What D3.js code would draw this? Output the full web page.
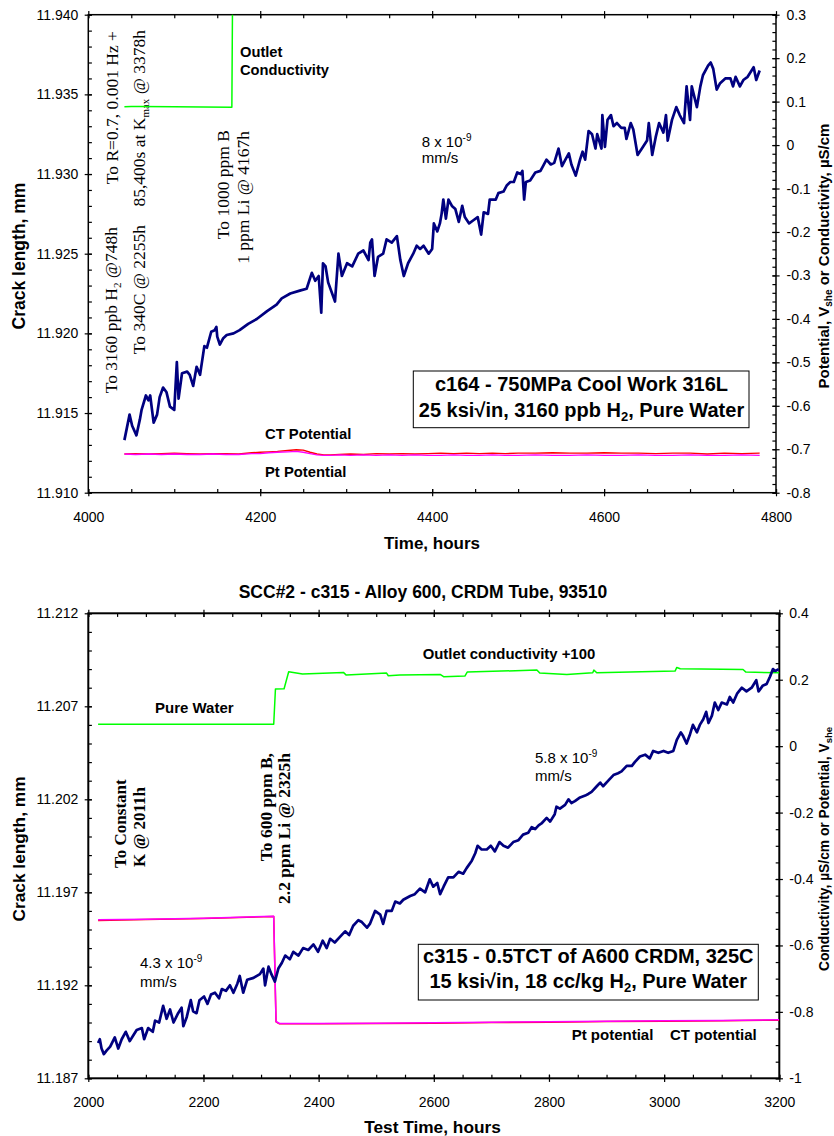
<!DOCTYPE html>
<html>
<head>
<meta charset="utf-8">
<script src="https://cdn.jsdelivr.net/npm/d3@7"></script>
<style>
  body { margin: 0; background: #fff; }
  svg { display: block; }
  text { font-family: "Liberation Sans", Arial, Helvetica, sans-serif; fill: #000; }
  .serif { font-family: "Liberation Serif", "Times New Roman", serif; }
</style>
</head>
<body>
<svg id="fig" width="834" height="1136"></svg>
<script>
// ---------- c164 (upper panel) ----------
const c164Hours = [4042,4048,4051,4056,4060,4062,4067,4070,4072,4076,4080,4083,4087,4091,4095,4100,4103,4105,4109,4115,4118,4122,4126,4130,4135,4138,4143,4147,4149,4150,4153,4157,4161,4169,4176,4186,4196,4208,4219,4225,4235,4247,4254,4260,4264,4268,4271,4273,4276,4279,4287,4291,4295,4301,4307,4314,4320,4326,4328,4330,4333,4337,4343,4347,4353,4359,4363,4367,4372,4378,4382,4386,4390,4396,4400,4402,4406,4409,4411,4413,4416,4419,4423,4427,4431,4435,4438,4443,4448,4453,4457,4460,4465,4467,4474,4477,4483,4487,4491,4495,4499,4503,4505,4507,4509,4514,4520,4526,4529,4533,4538,4542,4547,4551,4555,4559,4562,4567,4572,4575,4578,4582,4586,4590,4592,4597,4598,4601,4604,4608,4611,4615,4620,4624,4626,4631,4634,4639,4644,4650,4652,4656,4660,4664,4669,4672,4674,4679,4684,4688,4693,4696,4700,4702,4708,4712,4715,4721,4724,4727,4731,4735,4741,4747,4750,4753,4758,4762,4767,4774,4777,4781];
const c164Crack = [11.9133,11.9149,11.9142,11.9136,11.9146,11.9152,11.9161,11.9158,11.9161,11.9144,11.9149,11.9160,11.9166,11.9163,11.9154,11.9152,11.9182,11.9159,11.9175,11.9176,11.9174,11.9167,11.9179,11.9174,11.9192,11.9191,11.9201,11.9202,11.9204,11.9198,11.9193,11.9197,11.9199,11.9200,11.9202,11.9206,11.9209,11.9214,11.9218,11.9222,11.9225,11.9227,11.9228,11.9238,11.9233,11.9236,11.9213,11.9244,11.9242,11.9232,11.9220,11.9250,11.9236,11.9244,11.9242,11.9250,11.9252,11.9246,11.9257,11.9259,11.9236,11.9248,11.9250,11.9259,11.9257,11.9261,11.9246,11.9236,11.9244,11.9250,11.9255,11.9253,11.9255,11.9250,11.9253,11.9269,11.9264,11.9269,11.9275,11.9284,11.9272,11.9284,11.9280,11.9278,11.9270,11.9280,11.9273,11.9269,11.9271,11.9273,11.9262,11.9276,11.9275,11.9284,11.9284,11.9288,11.9289,11.9293,11.9295,11.9295,11.9301,11.9300,11.9302,11.9284,11.9295,11.9296,11.9301,11.9302,11.9305,11.9309,11.9306,11.9307,11.9316,11.9305,11.9309,11.9313,11.9306,11.9299,11.9309,11.9314,11.9309,11.9327,11.9325,11.9316,11.9325,11.9316,11.9337,11.9317,11.9334,11.9337,11.9330,11.9332,11.9329,11.9329,11.9322,11.9332,11.9328,11.9312,11.9316,11.9321,11.9332,11.9312,11.9323,11.9332,11.9326,11.9337,11.9321,11.9334,11.9342,11.9337,11.9332,11.9355,11.9334,11.9355,11.9342,11.9355,11.9362,11.9368,11.9370,11.9366,11.9353,11.9357,11.9360,11.9360,11.9355,11.9361,11.9355,11.9359,11.9361,11.9367,11.9359,11.9365];

const c164CondHours = [4042, 4050, 4060, 4100, 4167, 4168];
const c164Cond      = [0.088, 0.089, 0.089, 0.088, 0.087, 0.40];

const c164PotHours = [4042,4055,4070,4085,4100,4115,4130,4145,4160,4175,4190,4200,4210,4220,4232,4242,4250,4258,4266,4274,4282,4292,4305,4320,4335,4350,4365,4380,4395,4410,4425,4440,4455,4470,4485,4500,4520,4540,4560,4580,4600,4620,4640,4660,4680,4700,4720,4740,4760,4781];
const c164CtPot = [-0.711,-0.710,-0.711,-0.710,-0.709,-0.710,-0.711,-0.710,-0.710,-0.711,-0.708,-0.707,-0.706,-0.705,-0.703,-0.701,-0.702,-0.707,-0.711,-0.713,-0.713,-0.712,-0.711,-0.712,-0.710,-0.711,-0.710,-0.711,-0.710,-0.709,-0.710,-0.709,-0.710,-0.709,-0.710,-0.709,-0.709,-0.708,-0.709,-0.709,-0.708,-0.709,-0.709,-0.710,-0.709,-0.709,-0.711,-0.709,-0.710,-0.709];
const c164PtPot = [-0.711,-0.712,-0.711,-0.712,-0.711,-0.712,-0.712,-0.711,-0.712,-0.712,-0.710,-0.710,-0.708,-0.707,-0.706,-0.705,-0.707,-0.710,-0.713,-0.714,-0.714,-0.713,-0.714,-0.713,-0.714,-0.713,-0.714,-0.713,-0.714,-0.714,-0.713,-0.714,-0.714,-0.713,-0.714,-0.714,-0.713,-0.714,-0.714,-0.713,-0.714,-0.714,-0.713,-0.714,-0.714,-0.713,-0.714,-0.714,-0.713,-0.714];

const c164TimeTicks  = [4000, 4200, 4400, 4600, 4800];
const c164CrackTicks = [11.910, 11.915, 11.920, 11.925, 11.930, 11.935, 11.940];
const c164RightTicks = [-0.8,-0.7,-0.6,-0.5,-0.4,-0.3,-0.2,-0.1,0,0.1,0.2,0.3];

// ---------- c315 (lower panel) ----------
const c315Hours = [2017,2020,2023,2027,2032,2038,2046,2052,2058,2065,2072,2078,2084,2093,2097,2104,2112,2116,2123,2130,2136,2142,2148,2156,2162,2165,2171,2178,2182,2188,2193,2201,2207,2213,2220,2227,2232,2239,2246,2252,2259,2263,2269,2276,2287,2298,2304,2307,2313,2318,2324,2330,2336,2342,2350,2356,2365,2373,2382,2391,2399,2407,2414,2420,2428,2437,2446,2453,2460,2469,2475,2484,2489,2498,2507,2512,2518,2527,2533,2541,2547,2559,2567,2576,2585,2593,2599,2606,2611,2617,2625,2634,2643,2651,2657,2666,2672,2676,2683,2692,2699,2706,2714,2721,2729,2738,2747,2755,2764,2770,2776,2782,2787,2796,2802,2810,2813,2819,2828,2834,2839,2845,2854,2863,2869,2874,2883,2889,2894,2903,2912,2920,2926,2935,2944,2949,2958,2967,2975,2981,2990,2999,3007,3016,3022,3029,3033,3039,3045,3050,3057,3062,3068,3073,3077,3083,3088,3094,3100,3109,3114,3120,3127,3135,3143,3152,3160,3164,3171,3178,3184,3189,3193,3199];
const c315Crack = [11.1889,11.1891,11.1886,11.1883,11.1885,11.1887,11.1892,11.1886,11.1891,11.1895,11.1890,11.1893,11.1896,11.1897,11.1891,11.1897,11.1895,11.1901,11.1900,11.1909,11.1902,11.1907,11.1900,11.1905,11.1908,11.1898,11.1903,11.1912,11.1906,11.1905,11.1912,11.1914,11.1910,11.1915,11.1916,11.1913,11.1918,11.1917,11.1920,11.1916,11.1921,11.1925,11.1916,11.1923,11.1924,11.1926,11.1929,11.1920,11.1930,11.1926,11.1922,11.1929,11.1932,11.1936,11.1934,11.1938,11.1936,11.1940,11.1939,11.1942,11.1938,11.1944,11.1940,11.1945,11.1943,11.1946,11.1949,11.1947,11.1952,11.1955,11.1954,11.1951,11.1953,11.1960,11.1958,11.1953,11.1960,11.1960,11.1965,11.1964,11.1966,11.1968,11.1969,11.1972,11.1970,11.1977,11.1973,11.1975,11.1969,11.1973,11.1978,11.1978,11.1981,11.1980,11.1983,11.1987,11.1991,11.1995,11.1993,11.1993,11.1995,11.1992,11.1997,11.1995,11.1994,11.1997,11.1998,11.2001,11.2002,11.2005,11.2004,11.2006,11.2007,11.2010,11.2008,11.2012,11.2016,11.2015,11.2017,11.2020,11.2018,11.2019,11.2021,11.2022,11.2023,11.2024,11.2027,11.2029,11.2027,11.2030,11.2033,11.2034,11.2035,11.2038,11.2038,11.2040,11.2043,11.2044,11.2042,11.2046,11.2045,11.2046,11.2045,11.2046,11.2052,11.2056,11.2054,11.2050,11.2055,11.2060,11.2056,11.2060,11.2063,11.2067,11.2061,11.2065,11.2072,11.2068,11.2072,11.2071,11.2075,11.2072,11.2077,11.2080,11.2078,11.2080,11.2084,11.2078,11.2081,11.2082,11.2086,11.2090,11.2089,11.2090];

const c315CondHours = [2017,2322,2325,2340,2348,2372,2443,2448,2518,2521,2541,2611,2617,2654,2658,2779,2784,2831,2876,2878,2883,3019,3022,3028,3137,3142,3200];
const c315Cond      = [0.066,0.066,0.172,0.173,0.224,0.217,0.222,0.214,0.220,0.212,0.214,0.216,0.209,0.211,0.223,0.229,0.220,0.216,0.221,0.229,0.221,0.226,0.237,0.233,0.231,0.223,0.221];

const c315PotHours = [2017,2100,2200,2322,2326,2332,2400,2500,2600,2700,2800,2900,3000,3100,3200];
const c315CtPot    = [-0.525,-0.522,-0.519,-0.513,-0.830,-0.836,-0.836,-0.835,-0.834,-0.832,-0.831,-0.829,-0.828,-0.827,-0.825];
const c315PtPot    = [-0.523,-0.521,-0.518,-0.512,-0.829,-0.835,-0.835,-0.834,-0.833,-0.831,-0.830,-0.828,-0.827,-0.826,-0.824];

const c315TimeTicks  = [2000, 2200, 2400, 2600, 2800, 3000, 3200];
const c315CrackTicks = [11.187, 11.192, 11.197, 11.202, 11.207, 11.212];
const c315RightTicks = [-1,-0.8,-0.6,-0.4,-0.2,0,0.2,0.4];

// ---------- drawing ----------
const svg = d3.select("#fig");
const NAVY = "#000080", GREEN = "#00ff00", RED = "#ff0000", MAGENTA = "#ff00ff";

function minorValues(lo, hi, step) {
  const n = Math.round((hi - lo) / step);
  return d3.range(n + 1).map(i => +(lo + i * step).toFixed(6));
}

function drawFrame(g, p) {
  const { x, yL, yR, left, right, top, bottom, lw } = p;

  // minor ticks point inward, major ticks cross the axis line
  const tick = (axisFn, scale, values, size, tr) => {
    g.append("g").attr("transform", tr)
      .call(axisFn(scale).tickValues(values).tickSize(size).tickFormat(""))
      .call(a => a.select(".domain").remove())
      .call(a => a.selectAll("line").attr("stroke-width", 1.2));
  };
  tick(d3.axisLeft, yL, p.yMinor, -3.6, `translate(${left},0)`);
  tick(d3.axisLeft, yL, p.yMajor, 3.6, `translate(${left},0)`);
  tick(d3.axisLeft, yL, p.yMajor, -3.6, `translate(${left},0)`);
  tick(d3.axisRight, yR, p.rMinor, -3.6, `translate(${right},0)`);
  tick(d3.axisRight, yR, p.rMajor, 3.6, `translate(${right},0)`);
  tick(d3.axisRight, yR, p.rMajor, -3.6, `translate(${right},0)`);
  tick(d3.axisBottom, x, p.xMinor, -3.6, `translate(0,${bottom})`);
  tick(d3.axisBottom, x, p.xMajor, 3.6, `translate(0,${bottom})`);
  tick(d3.axisBottom, x, p.xMajor, -3.6, `translate(0,${bottom})`);
  tick(d3.axisTop, x, p.xMinor, -3.6, `translate(0,${top})`);
  tick(d3.axisTop, x, p.xMajor, 3.6, `translate(0,${top})`);
  tick(d3.axisTop, x, p.xMajor, -3.6, `translate(0,${top})`);

  g.append("rect")
    .attr("x", left).attr("y", top)
    .attr("width", right - left).attr("height", bottom - top)
    .attr("fill", "none").attr("stroke", "#000").attr("stroke-width", lw);

  // tick labels
  const labels = (axis, tr) => {
    g.append("g").attr("transform", tr).call(axis)
      .attr("font-family", null).attr("font-size", null)
      .call(a => a.select(".domain").remove())
      .call(a => a.selectAll("line").remove())
      .call(a => a.selectAll("text").style("font-size", "14px"));
  };
  labels(d3.axisLeft(yL).tickValues(p.yMajor).tickSize(0).tickPadding(10).tickFormat(d3.format(".3f")),
         `translate(${left},0)`);
  labels(d3.axisRight(yR).tickValues(p.rMajor).tickSize(0).tickPadding(p.rPad).tickFormat(d => String(+d.toFixed(2))),
         `translate(${right},0)`);
  labels(d3.axisBottom(x).tickValues(p.xMajor).tickSize(0).tickPadding(p.xPad).tickFormat(d3.format("d")),
         `translate(0,${bottom})`);
}

function addLine(g, x, y, hours, values, color, width) {
  const line = d3.line().x(d => x(d[0])).y(d => y(d[1]));
  g.append("path").datum(d3.zip(hours, values))
    .attr("d", line).attr("fill", "none")
    .attr("stroke", color).attr("stroke-width", width)
    .attr("stroke-linejoin", "round");
}

function label(g, x, y, parts, opts = {}) {
  const t = g.append("text")
    .attr("x", x).attr("y", y)
    .attr("text-anchor", opts.anchor || "start")
    .style("font-size", (opts.size || 15) + "px")
    .style("font-weight", opts.bold ? "bold" : "normal");
  if (opts.serif) t.attr("class", "serif");
  if (opts.rotate) t.attr("x", null).attr("y", null)
    .attr("transform", `translate(${x},${y}) rotate(-90)`);
  (Array.isArray(parts) ? parts : [parts]).forEach(pt => {
    if (typeof pt === "string") t.append("tspan").text(pt);
    else t.append("tspan").text(pt.t)
      .style("font-size", pt.size + "px")
      .attr("baseline-shift", pt.shift);
  });
  return t;
}

function clipped(id, left, top, right, bottom) {
  svg.append("clipPath").attr("id", id).append("rect")
    .attr("x", left).attr("y", top).attr("width", right - left).attr("height", bottom - top);
  return svg.append("g").attr("clip-path", `url(#${id})`);
}

// ===== upper panel: c164 =====
{
  const left = 88.3, right = 776, top = 14.7, bottom = 492.7;
  const x = d3.scaleLinear([4000, 4800], [left, right]);
  const yL = d3.scaleLinear([11.910, 11.940], [bottom, top]);
  const yR = d3.scaleLinear([-0.8, 0.3], [bottom, top]);
  const g = svg.append("g");

  const plot = clipped("clipTop", left, top, right, bottom);
  addLine(plot, x, yR, c164CondHours, c164Cond, GREEN, 1.5);
  addLine(plot, x, yR, c164PotHours, c164CtPot, RED, 1.4);
  addLine(plot, x, yR, c164PotHours, c164PtPot, MAGENTA, 1.4);
  addLine(plot, x, yL, c164Hours, c164Crack, NAVY, 2.7);

  drawFrame(g, {
    x, yL, yR, left, right, top, bottom, lw: 1.5,
    xMajor: c164TimeTicks, xMinor: minorValues(4000, 4800, 50),
    yMajor: c164CrackTicks, yMinor: minorValues(11.910, 11.940, 0.001),
    rMajor: c164RightTicks, rMinor: minorValues(-0.8, 0.3, 0.02),
    xPad: 19, rPad: 10.5
  });

  label(g, 25, 256, "Crack length, mm", { bold: true, size: 17.5, rotate: true, anchor: "middle" });
  label(g, 432, 549, "Time, hours", { bold: true, size: 17, anchor: "middle" });
  label(g, 829, 256, ["Potential, V", { t: "she", size: 10, shift: -3 }, " or Conductivity, µS/cm"],
        { bold: true, size: 15, rotate: true, anchor: "middle" });

  label(g, 240, 57.3, "Outlet", { bold: true, size: 14.7 });
  label(g, 240, 75, "Conductivity", { bold: true, size: 14.7 });
  label(g, 421.7, 146.7, ["8 x 10", { t: "-9", size: 10, shift: 6 }], { size: 15 });
  label(g, 421.7, 163.3, "mm/s", { size: 15 });
  label(g, 265, 439.3, "CT Potential", { bold: true, size: 14.8 });
  label(g, 265, 476.7, "Pt Potential", { bold: true, size: 14.8 });

  // event annotations
  label(g, 117, 227, ["To 3160 ppb H", { t: "2", size: 11, shift: -4 }, " @748h"], { serif: true, size: 17.5, rotate: true, anchor: "end" });
  label(g, 145, 225, "To 340C @ 2255h", { serif: true, size: 17.5, rotate: true, anchor: "end" });
  label(g, 118, 31, "To R=0.7, 0.001 Hz +", { serif: true, size: 17.5, rotate: true, anchor: "end" });
  label(g, 145, 30, ["85,400s at K", { t: "max", size: 11, shift: -4 }, " @ 3378h"], { serif: true, size: 17.5, rotate: true, anchor: "end" });
  label(g, 228.5, 130, "To 1000 ppm B", { serif: true, size: 17.5, rotate: true, anchor: "end" });
  label(g, 248.5, 131, "1 ppm Li @ 4167h", { serif: true, size: 17.5, rotate: true, anchor: "end" });

  g.append("rect").attr("x", 413.3).attr("y", 371).attr("width", 335.7).attr("height", 56.7)
    .attr("fill", "#fff").attr("stroke", "#000").attr("stroke-width", 1);
  label(g, 581.5, 391, "c164 - 750MPa Cool Work 316L", { bold: true, size: 20, anchor: "middle" });
  label(g, 581.5, 416.7, ["25 ksi√in, 3160 ppb H", { t: "2", size: 13, shift: -4 }, ", Pure Water"], { bold: true, size: 20, anchor: "middle" });
}

// ===== lower panel: c315 =====
{
  const left = 88.3, right = 779.3, top = 613.3, bottom = 1078.3;
  const x = d3.scaleLinear([2000, 3200], [left, right]);
  const yL = d3.scaleLinear([11.187, 11.212], [bottom, top]);
  const yR = d3.scaleLinear([-1, 0.4], [bottom, top]);
  const g = svg.append("g");

  const plot = clipped("clipBottom", left, top, right, bottom);
  addLine(plot, x, yR, c315CondHours, c315Cond, GREEN, 1.5);
  addLine(plot, x, yR, c315PotHours, c315CtPot, RED, 1.5);
  addLine(plot, x, yR, c315PotHours, c315PtPot, MAGENTA, 1.5);
  addLine(plot, x, yL, c315Hours, c315Crack, NAVY, 2.7);

  drawFrame(g, {
    x, yL, yR, left, right, top, bottom, lw: 2,
    xMajor: c315TimeTicks, xMinor: minorValues(2000, 3200, 50),
    yMajor: c315CrackTicks, yMinor: minorValues(11.187, 11.212, 0.001),
    rMajor: c315RightTicks, rMinor: minorValues(-1, 0.4, 0.05),
    xPad: 18.5, rPad: 10
  });

  label(g, 423, 598.3, "SCC#2 - c315 - Alloy 600, CRDM Tube, 93510", { bold: true, size: 17.5, anchor: "middle" });
  label(g, 25, 849, "Crack length, mm", { bold: true, size: 17.3, rotate: true, anchor: "middle" });
  label(g, 432.5, 1133, "Test Time, hours", { bold: true, size: 17.3, anchor: "middle" });
  label(g, 829, 849, ["Conductivity, µS/cm or Potential, V", { t: "she", size: 9.5, shift: -3 }],
        { bold: true, size: 13.8, rotate: true, anchor: "middle" });

  label(g, 155, 712.7, "Pure Water", { bold: true, size: 15 });
  label(g, 422.7, 659.3, "Outlet conductivity +100", { bold: true, size: 14.9 });
  label(g, 535, 763.3, ["5.8 x 10", { t: "-9", size: 10, shift: 6 }], { size: 15 });
  label(g, 535, 780.7, "mm/s", { size: 15 });
  label(g, 140, 968.3, ["4.3 x 10", { t: "-9", size: 10, shift: 6 }], { size: 15 });
  label(g, 140, 986.7, "mm/s", { size: 15 });
  label(g, 571.7, 1040, "Pt potential", { bold: true, size: 15 });
  label(g, 670, 1040, "CT potential", { bold: true, size: 15 });

  label(g, 126, 868, "To Constant", { serif: true, bold: true, size: 17, rotate: true, anchor: "start" });
  label(g, 145, 867, "K  @ 2011h", { serif: true, bold: true, size: 17, rotate: true, anchor: "start" });
  label(g, 271.7, 753, "To 600 ppm B,", { serif: true, bold: true, size: 17.5, rotate: true, anchor: "end" });
  label(g, 289.5, 753, "2.2 ppm Li @ 2325h", { serif: true, bold: true, size: 17.5, rotate: true, anchor: "end" });

  g.append("rect").attr("x", 418.3).attr("y", 944.3).attr("width", 340).attr("height", 55.7)
    .attr("fill", "#fff").attr("stroke", "#000").attr("stroke-width", 1);
  label(g, 588.3, 963.3, "c315 - 0.5TCT of A600 CRDM, 325C", { bold: true, size: 20, anchor: "middle" });
  label(g, 588.3, 988.3, ["15 ksi√in, 18 cc/kg H", { t: "2", size: 13, shift: -4 }, ", Pure Water"], { bold: true, size: 20, anchor: "middle" });
}
</script>
</body>
</html>
